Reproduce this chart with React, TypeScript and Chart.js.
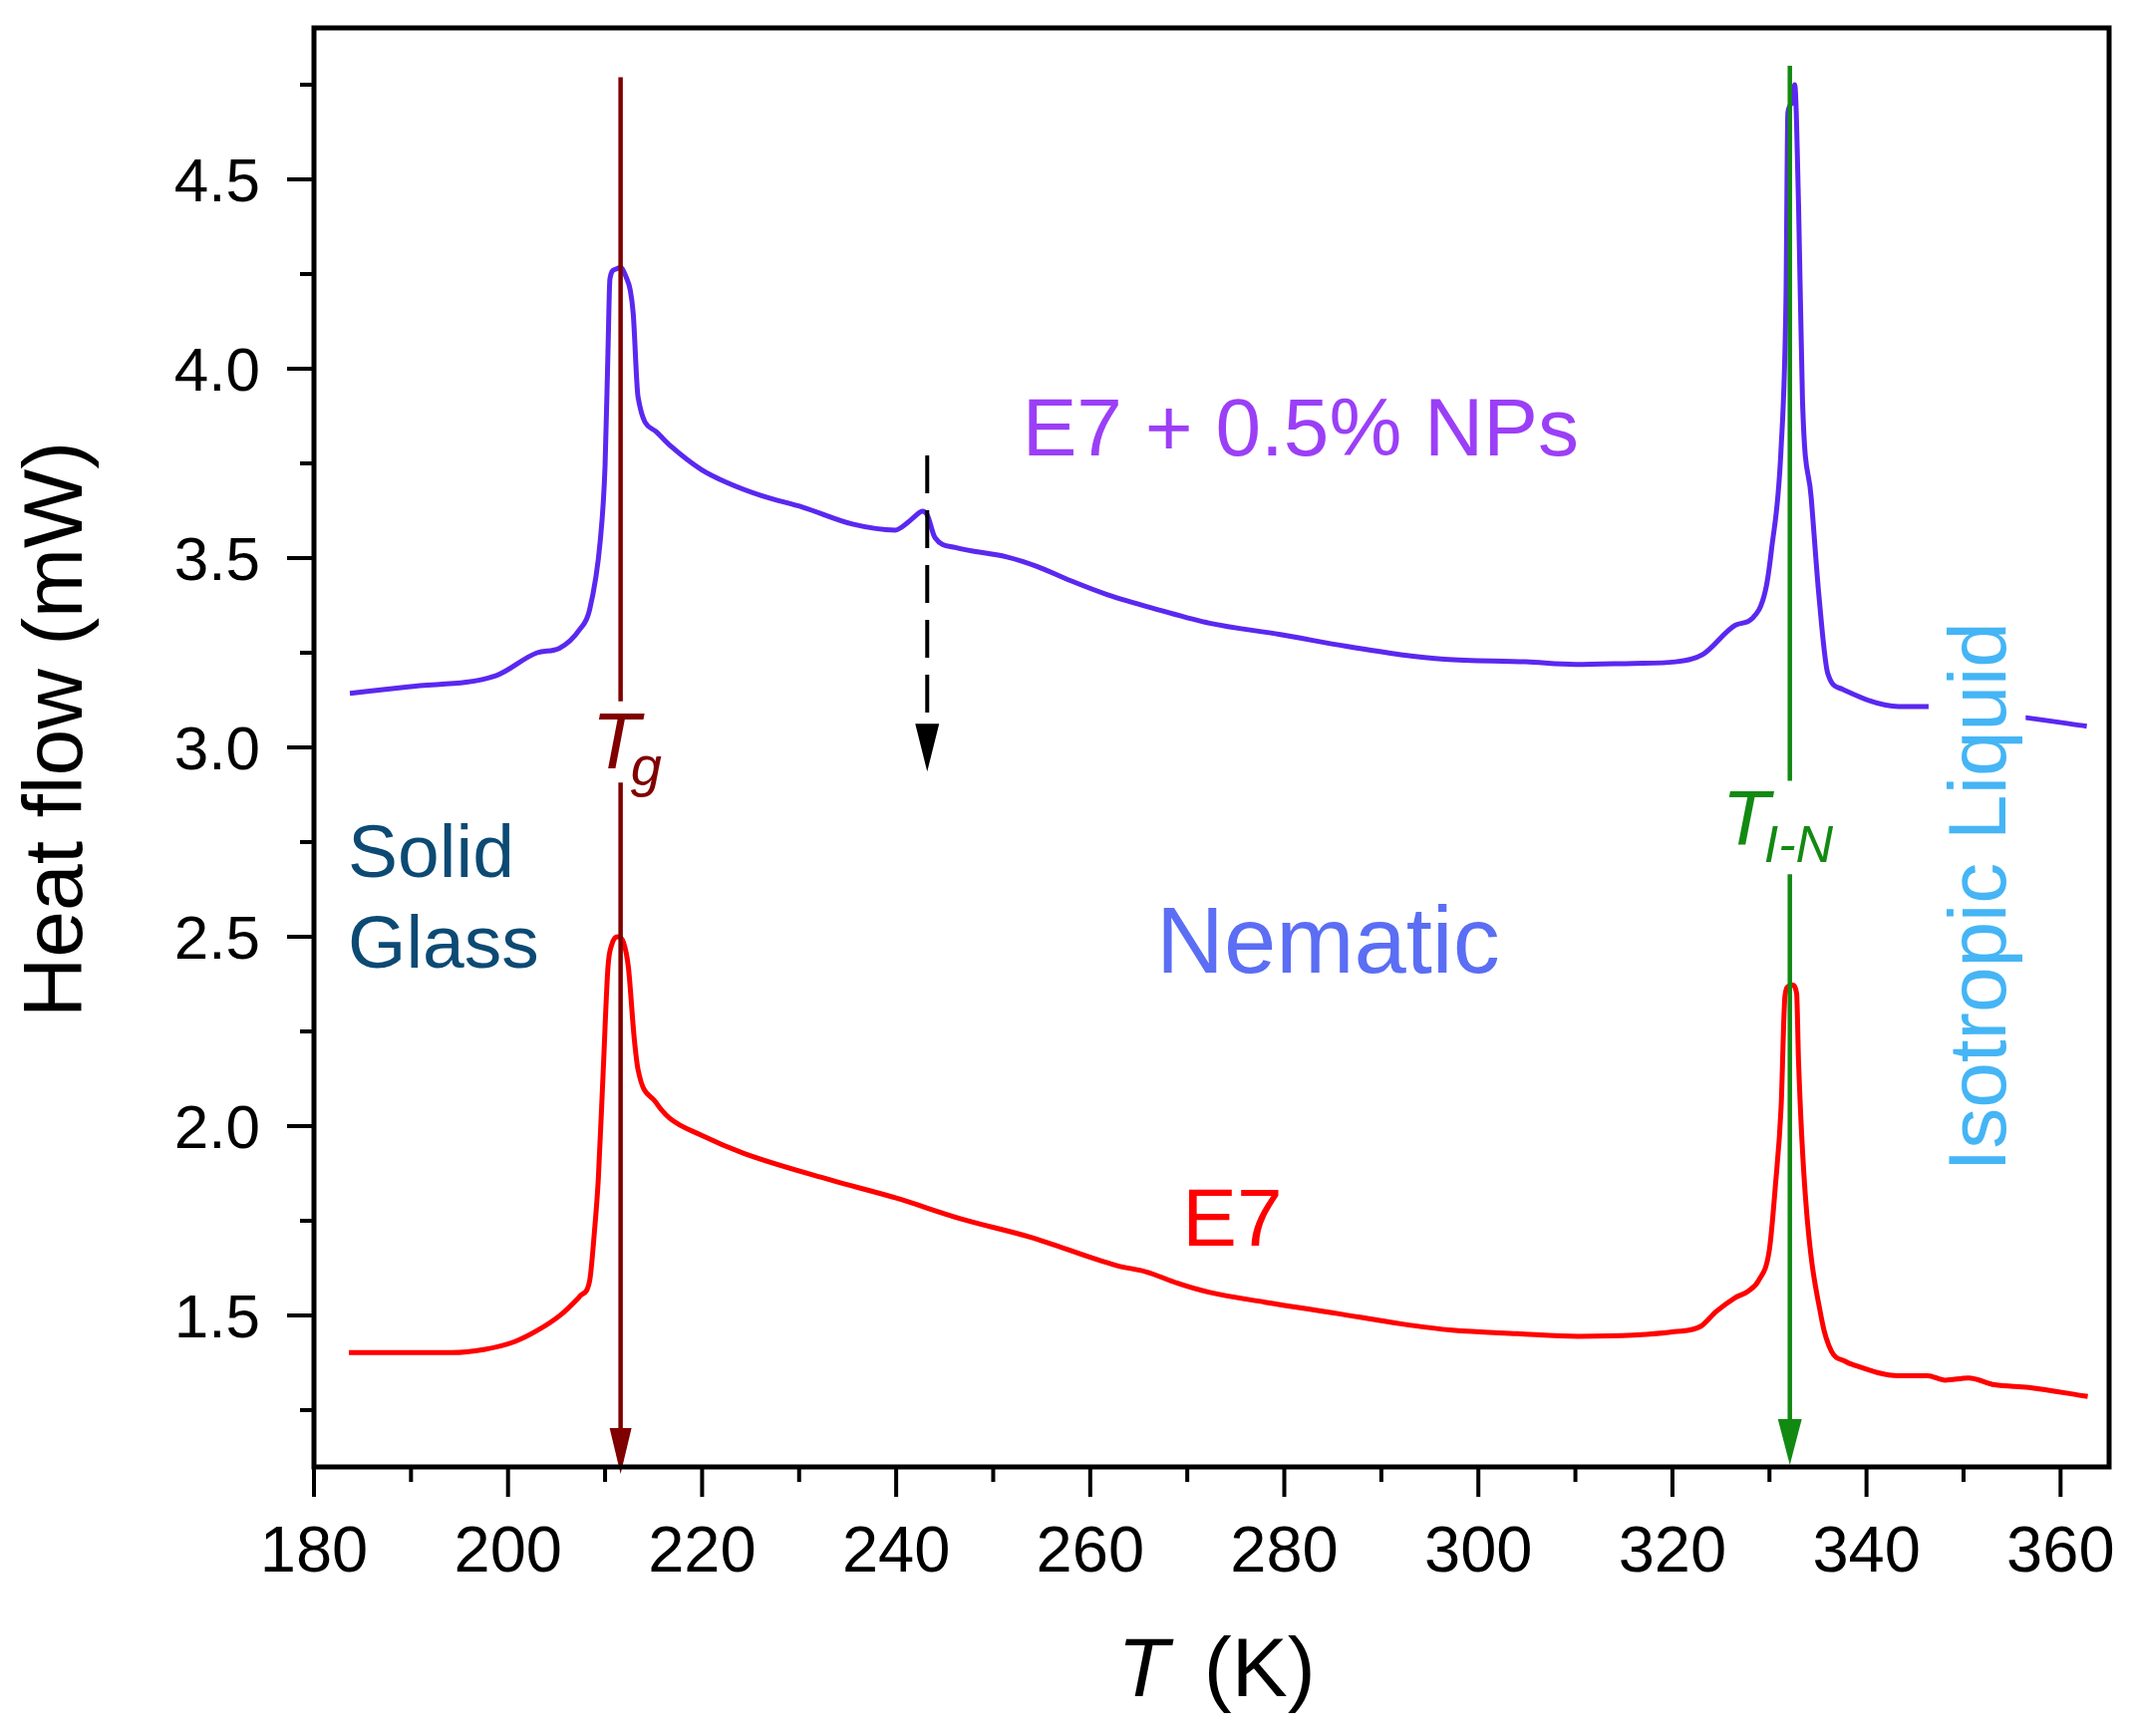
import React, { useEffect, useRef } from "react";
import { Chart, registerables } from "chart.js";

Chart.register(...registerables);

// ---- data (T in K, heat flow in mW) ----
const BLUE_T = [183.7, 189.7, 198.8, 203.0, 205.3, 207.4, 208.4, 209.5, 210.0, 210.3, 210.5, 211.0, 211.6, 212.2, 212.6, 212.9, 213.4, 215.2, 216.8, 219.9, 222.5, 226.2, 230.4, 235.6, 239.9, 241.2, 242.0, 242.7, 243.2, 244.0, 246.1, 251.4, 254.5, 258.0, 261.8, 267.1, 272.3, 279.6, 286.4, 292.0, 296.5, 304.9, 310.0, 316.0, 320.3, 323.1, 326.5, 328.2, 329.6, 330.2, 331.2, 331.7, 331.9, 332.3, 332.6, 333.0, 333.4, 334.3, 335.1, 336.0, 337.5, 343.3, 346.4, 356.6, 362.7];
const BLUE_V = [3.143, 3.160, 3.190, 3.250, 3.262, 3.312, 3.363, 3.545, 3.744, 4.046, 4.237, 4.262, 4.267, 4.240, 4.207, 4.146, 3.925, 3.835, 3.795, 3.734, 3.700, 3.664, 3.634, 3.589, 3.574, 3.594, 3.612, 3.624, 3.614, 3.554, 3.528, 3.503, 3.478, 3.440, 3.403, 3.363, 3.328, 3.298, 3.267, 3.245, 3.233, 3.226, 3.219, 3.222, 3.226, 3.245, 3.323, 3.340, 3.416, 3.520, 3.790, 4.180, 4.676, 4.700, 4.750, 4.430, 3.920, 3.660, 3.400, 3.196, 3.154, 3.108, 3.108, 3.078, 3.056];

const RED_T = [183.6, 194.2, 197.5, 200.7, 203.0, 205.4, 207.5, 208.4, 208.9, 209.3, 209.8, 210.3, 210.7, 211.3, 211.9, 212.4, 213.0, 213.4, 215.2, 216.6, 220.0, 224.3, 233.2, 240.0, 246.7, 253.8, 262.7, 265.8, 269.0, 272.1, 278.0, 285.5, 292.0, 297.3, 304.0, 310.3, 316.0, 320.2, 322.9, 324.5, 326.4, 327.8, 328.9, 330.0, 330.6, 331.2, 331.6, 332.0, 332.3, 332.8, 333.0, 333.7, 335.4, 336.4, 337.8, 338.6, 343.3, 346.3, 348.1, 350.5, 353.2, 356.7, 362.8];
const RED_V = [1.402, 1.402, 1.410, 1.431, 1.460, 1.501, 1.553, 1.590, 1.720, 1.858, 2.140, 2.420, 2.480, 2.500, 2.485, 2.420, 2.233, 2.149, 2.064, 2.022, 1.975, 1.928, 1.858, 1.810, 1.755, 1.707, 1.632, 1.615, 1.585, 1.562, 1.535, 1.505, 1.478, 1.461, 1.452, 1.445, 1.448, 1.457, 1.471, 1.510, 1.546, 1.564, 1.593, 1.675, 1.839, 2.050, 2.344, 2.370, 2.373, 2.350, 2.168, 1.816, 1.487, 1.405, 1.379, 1.370, 1.341, 1.341, 1.329, 1.335, 1.317, 1.310, 1.286];

const X_TICKS = [180, 200, 220, 240, 260, 280, 300, 320, 340, 360];
const X_MINOR = [190, 210, 230, 250, 270, 290, 310, 330, 350];
const Y_TICKS = [1.5, 2.0, 2.5, 3.0, 3.5, 4.0, 4.5];
const Y_MINOR = [1.25, 1.75, 2.25, 2.75, 3.25, 3.75, 4.25, 4.75];
const X_LABELS = X_TICKS.map((v) => String(v));
const Y_LABELS = Y_TICKS.map((v) => v.toFixed(1));

const TG = 211.6;
const TIN = 332.1;
const T_DASH = 243.2;

const FONT = "'Liberation Sans', Arial, Helvetica, sans-serif";

const toPoints = (xs: number[], ys: number[]) => xs.map((x, i) => ({ x, y: ys[i] }));

function arrowHead(ctx: CanvasRenderingContext2D, x: number, tipY: number, h: number, hw: number, color: string) {
  ctx.save();
  ctx.fillStyle = color;
  ctx.beginPath();
  ctx.moveTo(x, tipY);
  ctx.lineTo(x - hw, tipY - h);
  ctx.lineTo(x + hw, tipY - h);
  ctx.closePath();
  ctx.fill();
  ctx.restore();
}

function vline(ctx: CanvasRenderingContext2D, x: number, y1: number, y2: number, color: string, w: number, dash?: number[]) {
  ctx.save();
  ctx.strokeStyle = color;
  ctx.lineWidth = w;
  if (dash) ctx.setLineDash(dash);
  ctx.beginPath();
  ctx.moveTo(x, y1);
  ctx.lineTo(x, y2);
  ctx.stroke();
  ctx.restore();
}

function text(ctx: CanvasRenderingContext2D, s: string, x: number, y: number, font: string, color: string, align: CanvasTextAlign = "left") {
  ctx.save();
  ctx.font = font;
  ctx.fillStyle = color;
  ctx.textAlign = align;
  ctx.textBaseline = "alphabetic";
  ctx.fillText(s, x, y);
  ctx.restore();
}

const overlay = {
  id: "overlay",
  afterDatasetsDraw(chart: any) {
    const ctx: CanvasRenderingContext2D = chart.ctx;
    const xs = chart.scales.x;
    const ys = chart.scales.y;
    const px = (v: number) => xs.getPixelForValue(v);
    const py = (v: number) => ys.getPixelForValue(v);
    const area = chart.chartArea;

    // white box behind "Isotropic Liquid"
    ctx.save();
    ctx.fillStyle = "#ffffff";
    ctx.fillRect(px(346.4), py(3.32), px(356.4) - px(346.4), py(1.86) - py(3.32));
    ctx.restore();

    // Tg line + arrow
    const xg = px(TG);
    const tgCol = "#800000";
    vline(ctx, xg, py(4.77), py(3.122), tgCol, 4.5);
    vline(ctx, xg, py(2.907), area.bottom + 7 - 40, tgCol, 4.5);
    arrowHead(ctx, xg, area.bottom + 7, 46, 11, tgCol);

    // T I-N line + arrow
    const xn = px(TIN);
    const tnCol = "#128a12";
    vline(ctx, xn, py(4.8), py(2.912), tnCol, 4.5);
    vline(ctx, xn, py(2.665), area.bottom - 2 - 40, tnCol, 4.5);
    arrowHead(ctx, xn, area.bottom - 2, 46, 12, tnCol);

    // dashed arrow
    const xd = px(T_DASH);
    const tip = py(2.936);
    vline(ctx, xd, py(3.771), tip - 46, "#000000", 4, [38, 17]);
    arrowHead(ctx, xd, tip, 48, 12, "#000000");

    // labels
    text(ctx, "Solid", px(183.5), py(2.658), `75px ${FONT}`, "#0c4a74");
    text(ctx, "Glass", px(183.5), py(2.419), `75px ${FONT}`, "#0c4a74");

    text(ctx, "T", xg - 29, py(2.946), `italic 79px ${FONT}`, tgCol);
    text(ctx, "g", xg + 10, py(2.90), `italic 56px ${FONT}`, tgCol);

    text(ctx, "T", xn - 68, py(2.742), `italic 78px ${FONT}`, tnCol);
    text(ctx, "I-N", xn - 26, py(2.697), `italic 52px ${FONT}`, tnCol);

    text(ctx, "E7 + 0.5% NPs", px(253.0), py(3.77), `82px ${FONT}`, "#9b3ff7");
    text(ctx, "Nematic", px(266.8), py(2.405), `94px ${FONT}`, "#5b6ef4");
    text(ctx, "E7", px(269.5), py(1.684), `82px ${FONT}`, "#ff0000");

    ctx.save();
    ctx.translate(px(354.3), py(1.88));
    ctx.rotate(-Math.PI / 2);
    ctx.font = `82px ${FONT}`;
    ctx.fillStyle = "#45b5f5";
    ctx.textAlign = "left";
    ctx.textBaseline = "alphabetic";
    ctx.fillText("Isotropic Liquid", 0, 0);
    ctx.restore();
  },
  afterDraw(chart: any) {
    const ctx: CanvasRenderingContext2D = chart.ctx;
    const xs = chart.scales.x;
    const ys = chart.scales.y;
    const a = chart.chartArea;

    // frame
    ctx.save();
    ctx.strokeStyle = "#000";
    ctx.lineWidth = 5;
    ctx.strokeRect(a.left, a.top, a.right - a.left, a.bottom - a.top);

    // ticks
    ctx.lineWidth = 4;
    ctx.beginPath();
    X_TICKS.forEach((v) => {
      const x = xs.getPixelForValue(v);
      ctx.moveTo(x, a.bottom);
      ctx.lineTo(x, a.bottom + 30);
    });
    X_MINOR.forEach((v) => {
      const x = xs.getPixelForValue(v);
      ctx.moveTo(x, a.bottom);
      ctx.lineTo(x, a.bottom + 15);
    });
    Y_TICKS.forEach((v) => {
      const y = ys.getPixelForValue(v);
      ctx.moveTo(a.left, y);
      ctx.lineTo(a.left - 27, y);
    });
    Y_MINOR.forEach((v) => {
      const y = ys.getPixelForValue(v);
      ctx.moveTo(a.left, y);
      ctx.lineTo(a.left - 14, y);
    });
    ctx.stroke();

    // tick labels
    ctx.fillStyle = "#000";
    ctx.textBaseline = "alphabetic";
    ctx.font = `65px ${FONT}`;
    ctx.textAlign = "center";
    X_TICKS.forEach((v, i) => {
      ctx.fillText(X_LABELS[i], xs.getPixelForValue(v), a.bottom + 105);
    });
    ctx.font = `62px ${FONT}`;
    ctx.textAlign = "right";
    Y_TICKS.forEach((v, i) => {
      ctx.fillText(Y_LABELS[i], a.left - 54, ys.getPixelForValue(v) + 22);
    });
    ctx.restore();

    // axis titles
    ctx.save();
    ctx.fillStyle = "#000";
    ctx.textBaseline = "alphabetic";
    ctx.font = `italic 84px ${FONT}`;
    const wT = ctx.measureText("T").width;
    ctx.font = `84px ${FONT}`;
    const wK = ctx.measureText("(K)").width;
    const gap = 35;
    const cx = (a.left + a.right) / 2 + 5;
    const x0 = cx - (wT + gap + wK) / 2;
    ctx.font = `italic 84px ${FONT}`;
    ctx.textAlign = "left";
    ctx.fillText("T", x0, 1702);
    ctx.font = `84px ${FONT}`;
    ctx.fillText("(K)", x0 + wT + gap, 1702);

    ctx.translate(82, (a.top + a.bottom) / 2 - 18);
    ctx.rotate(-Math.PI / 2);
    ctx.textAlign = "center";
    ctx.fillText("Heat flow (mW)", 0, 0);
    ctx.restore();
  },
};

export default function App() {
  const ref = useRef<HTMLCanvasElement | null>(null);

  useEffect(() => {
    document.body.style.margin = "0";
    const canvas = ref.current;
    if (!canvas) return;
    const chart = new Chart(canvas, {
      type: "scatter",
      data: {
        datasets: [
          {
            label: "E7 + 0.5% NPs",
            data: toPoints(BLUE_T, BLUE_V),
            showLine: true,
            borderColor: "#5a28f0",
            borderWidth: 5,
            pointRadius: 0,
            cubicInterpolationMode: "monotone",
          },
          {
            label: "E7",
            data: toPoints(RED_T, RED_V),
            showLine: true,
            borderColor: "#ff0000",
            borderWidth: 5,
            pointRadius: 0,
            cubicInterpolationMode: "monotone",
          },
        ],
      },
      options: {
        animation: false,
        responsive: false,
        devicePixelRatio: 1,
        layout: { padding: { top: 28, right: 26, left: 0, bottom: 0 } },
        plugins: { legend: { display: false }, tooltip: { enabled: false } },
        scales: {
          x: {
            type: "linear",
            min: 180,
            max: 365,
            afterFit: (s: any) => {
              s.height = 270;
            },
            ticks: { display: false },
            grid: { display: false, drawTicks: false },
            border: { display: false },
          },
          y: {
            type: "linear",
            min: 1.1,
            max: 4.9,
            afterFit: (s: any) => {
              s.width = 315;
            },
            ticks: { display: false },
            grid: { display: false, drawTicks: false },
            border: { display: false },
          },
        },
      },
      plugins: [overlay],
    });
    return () => chart.destroy();
  }, []);

  return (
    <div style={{ width: 2142, height: 1742, background: "#fff" }}>
      <canvas ref={ref} width={2142} height={1742} style={{ display: "block", width: 2142, height: 1742 }} />
    </div>
  );
}
